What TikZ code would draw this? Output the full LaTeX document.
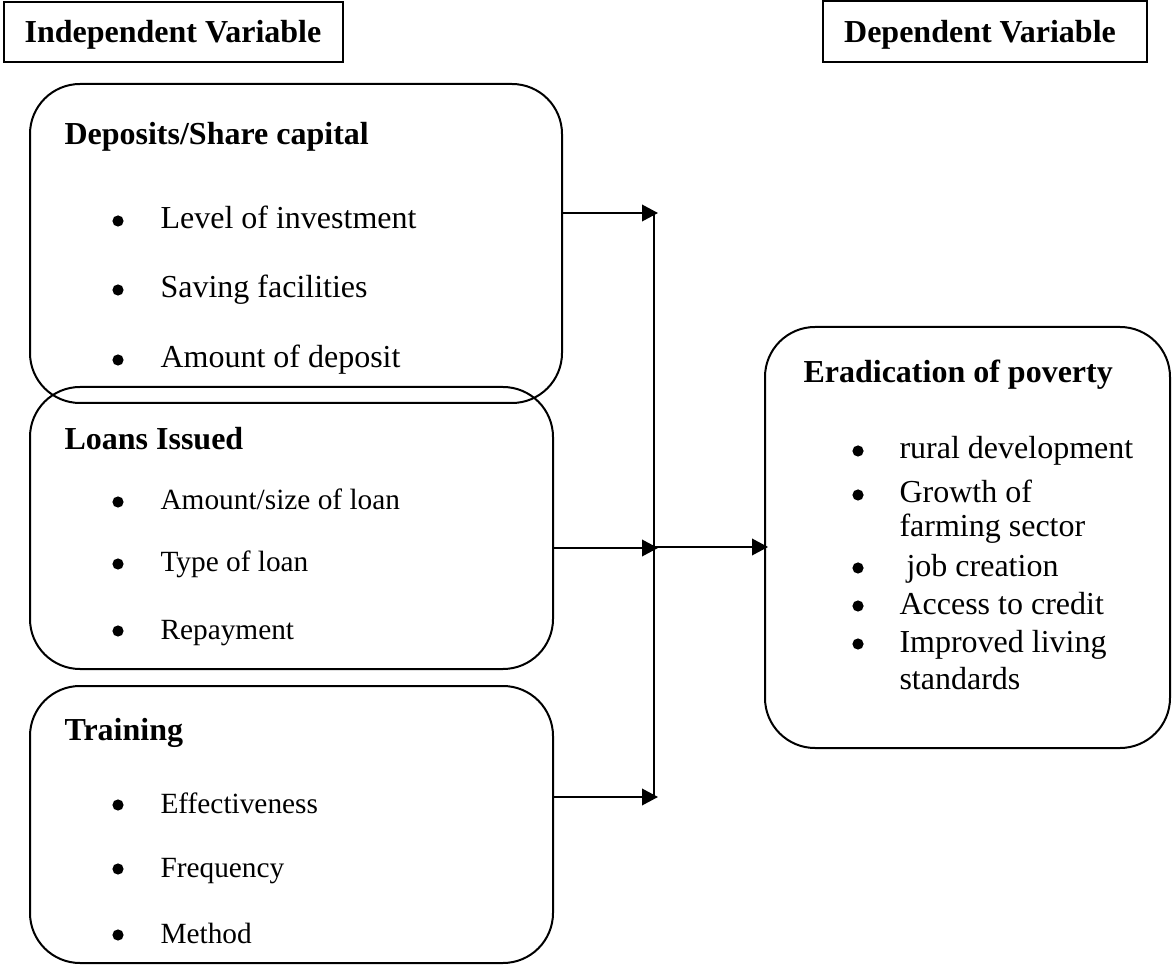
\documentclass[tikz,border=0pt]{standalone}
\usepackage{fontspec}
\setmainfont{Liberation Serif}
\usetikzlibrary{arrows.meta,fit}
\begin{document}
\begin{tikzpicture}[x=0.375pt,y=-0.375pt,
  frame/.style={draw, line width=0.75pt, inner sep=0pt},
  rbox/.style={frame, rounded corners=18.75pt},
  title/.style={anchor=base, inner sep=0pt, font=\fontsize{12}{14}\selectfont\bfseries},
  head/.style={anchor=base west, inner sep=0pt, font=\fontsize{12}{14}\selectfont\bfseries},
  item/.style={anchor=base west, inner sep=0pt, font=\fontsize{12}{14}\selectfont},
  itemsm/.style={anchor=base west, inner sep=0pt, font=\fontsize{11}{13}\selectfont},
  dot/.style={circle, fill=black, inner sep=0pt, minimum size=4.2pt},
  conn/.style={line width=0.75pt},
  arr/.style={conn, -{Triangle[length=6pt,width=6.2pt]}}]
\useasboundingbox (0,0) rectangle (1172,973);

% header boxes
\node[frame, fit={(4,2) (343,62)}] (ib) {};
\node[title] (ibt) at (173,43) {Independent Variable};
\node[frame, fit={(823,1) (1147,62)}] (db) {};
\node[title] (dbt) at (980,43) {Dependent Variable};

% box 1
\node[rbox, fit={(30,84) (562,403)}] (b1) {};
\node[head] (b1h) at (64,145) {Deposits/Share capital};
\node[dot] (b1d1) at (118,221) {};
\node[item] (b1i1) at (160,229) {Level of investment};
\node[dot] (b1d2) at (118,290) {};
\node[item] (b1i2) at (160,298) {Saving facilities};
\node[dot] (b1d3) at (118,360) {};
\node[item] (b1i3) at (160,368) {Amount of deposit};

% box 2
\node[rbox, fit={(30,387) (553,669)}] (b2) {};
\node[head] (b2h) at (64,450) {Loans Issued};
\node[dot] (b2d1) at (118,502) {};
\node[itemsm] (b2i1) at (160,510) {Amount/size of loan};
\node[dot] (b2d2) at (118,564) {};
\node[itemsm] (b2i2) at (160,572) {Type of loan};
\node[dot] (b2d3) at (118,631) {};
\node[itemsm] (b2i3) at (160,639) {Repayment};

% box 3
\node[rbox, fit={(30,686) (553,963)}] (b3) {};
\node[head] (b3h) at (64,740) {Training};
\node[dot] (b3d1) at (118,805) {};
\node[itemsm] (b3i1) at (160,813) {Effectiveness};
\node[dot] (b3d2) at (118,869) {};
\node[itemsm] (b3i2) at (160,877) {Frequency};
\node[dot] (b3d3) at (118,935) {};
\node[itemsm] (b3i3) at (160,943) {Method};

% right box
\node[rbox, fit={(765,327) (1170,748)}] (rb) {};
\node[head] (rbh) at (803,383) {Eradication of poverty};
\node[dot] (rd1) at (858,451) {};
\node[item] (ri1) at (899,459) {rural development};
\node[dot] (rd2) at (858,495) {};
\node[item] (ri2) at (899,503) {Growth of};
\node[item] (ri2b) at (899,537) {farming sector};
\node[dot] (rd3) at (858,568) {};
\node[item] (ri3) at (906,576) {job creation};
\node[dot] (rd4) at (858,606) {};
\node[item] (ri4) at (899,614) {Access to credit};
\node[dot] (rd5) at (858,644) {};
\node[item] (ri5) at (899,652) {Improved living};
\node[item] (ri5b) at (899,689) {standards};

% connectors
\coordinate (t1) at (658,213);
\coordinate (t2) at (658,548);
\coordinate (t3) at (658,797);
\coordinate (jt) at (654,213);
\coordinate (jb) at (654,797);
\coordinate (jm) at (655,547);
\draw[conn] (jt) -- (jb);
\draw[arr] (b1.east |- t1) -- (t1);
\draw[arr] (b2.east |- t2) -- (t2);
\draw[arr] (b3.east |- t3) -- (t3);
\draw[arr, shorten >=-1.5pt] (jm) -- (rb.west |- jm);
\end{tikzpicture}
\end{document}
